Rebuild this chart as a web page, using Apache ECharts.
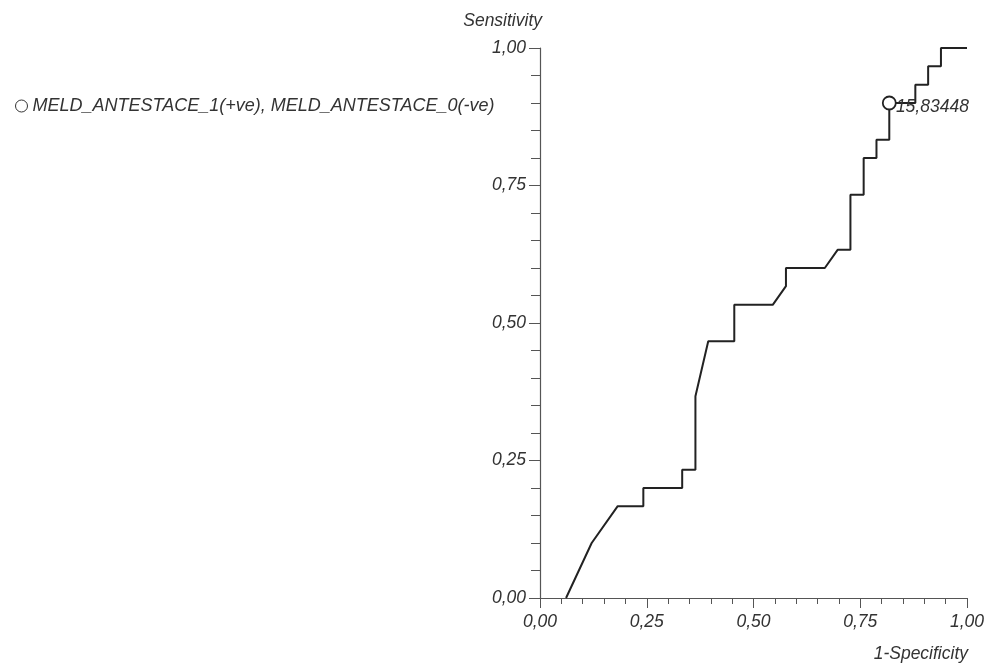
<!DOCTYPE html>
<html>
<head>
<meta charset="utf-8">
<script src="https://cdn.jsdelivr.net/npm/echarts@6/dist/echarts.min.js"></script>
<style>
  html, body { margin: 0; padding: 0; background: #fff; }
  #roc { width: 988px; height: 668px; }
</style>
</head>
<body>
<div id="roc"></div>
<script>
// ROC curve points
var fpr = [0.061, 0.121, 0.182, 0.242, 0.242, 0.333, 0.333, 0.364, 0.364, 0.394, 0.455, 0.455,
           0.545, 0.576, 0.576, 0.667, 0.697, 0.727, 0.727, 0.758, 0.758, 0.788, 0.788, 0.818,
           0.818, 0.879, 0.879, 0.909, 0.909, 0.939, 0.939, 1.0];
var tpr = [0.0, 0.1, 0.167, 0.167, 0.2, 0.2, 0.233, 0.233, 0.367, 0.467, 0.467, 0.533,
           0.533, 0.567, 0.6, 0.6, 0.633, 0.633, 0.733, 0.733, 0.8, 0.8, 0.833, 0.833,
           0.9, 0.9, 0.933, 0.933, 0.967, 0.967, 1.0, 1.0];

// cut-off point marked on the curve
var cutX = [0.818];
var cutY = [0.9];
var cutLabel = ['15,83448'];

var seriesName = 'MELD_ANTESTACE_1(+ve), MELD_ANTESTACE_0(-ve)';

var fmt = function (v) { return v.toFixed(2).replace('.', ','); };
var ff = 'Liberation Sans, Arial, sans-serif';
var font = {fontFamily: ff, fontStyle: 'italic', fontSize: 17.5, color: '#333'};

var chart = echarts.init(document.getElementById('roc'));
var option = {
  animation: false,
  grid: {left: 540, right: 21, top: 48, bottom: 70},
  legend: {
    left: 10, top: 92,
    data: [{name: seriesName, icon: 'circle'}],
    itemWidth: 12, itemHeight: 12, itemGap: 6,
    itemStyle: {color: '#fff', borderColor: '#333', borderWidth: 1},
    textStyle: Object.assign({}, font, {fontSize: 18})
  },
  xAxis: {
    type: 'value', min: 0, max: 1, interval: 0.25,
    axisLine: {lineStyle: {color: '#555', width: 1.2}},
    axisTick: {length: 10, lineStyle: {color: '#555'}},
    minorTick: {show: true, splitNumber: 5, length: 6, lineStyle: {color: '#555'}},
    splitLine: {show: false},
    axisLabel: Object.assign({margin: 15, formatter: fmt}, font)
  },
  yAxis: {
    type: 'value', min: 0, max: 1, interval: 0.25,
    axisLine: {show: true, lineStyle: {color: '#555', width: 1.2}},
    axisTick: {show: true, length: 11, lineStyle: {color: '#555'}},
    minorTick: {show: true, splitNumber: 5, length: 9, lineStyle: {color: '#555'}},
    splitLine: {show: false},
    axisLabel: Object.assign({margin: 14, formatter: fmt}, font)
  },
  graphic: [
    {type: 'text', right: 446, top: 12, style: {text: 'Sensitivity', fill: '#333',
      font: 'italic 17.5px ' + ff}},
    {type: 'text', right: 20, top: 645, style: {text: '1-Specificity', fill: '#333',
      font: 'italic 17.5px ' + ff}}
  ],
  series: [
    {
      name: 'roc',
      type: 'line',
      showSymbol: false,
      data: fpr.map(function (x, i) { return [x, tpr[i]]; }),
      lineStyle: {color: '#222', width: 2},
      z: 2
    },
    {
      name: seriesName,
      type: 'scatter',
      symbol: 'circle',
      symbolSize: 13,
      data: cutX.map(function (x, i) { return [x, cutY[i]]; }),
      itemStyle: {color: '#fff', borderColor: '#222', borderWidth: 1.8, opacity: 1},
      label: Object.assign({
        show: true, position: [14, 12], align: 'left', verticalAlign: 'middle',
        formatter: function (p) { return cutLabel[p.dataIndex]; }
      }, font),
      z: 3
    }
  ]
};
chart.setOption(option);
</script>
</body>
</html>
